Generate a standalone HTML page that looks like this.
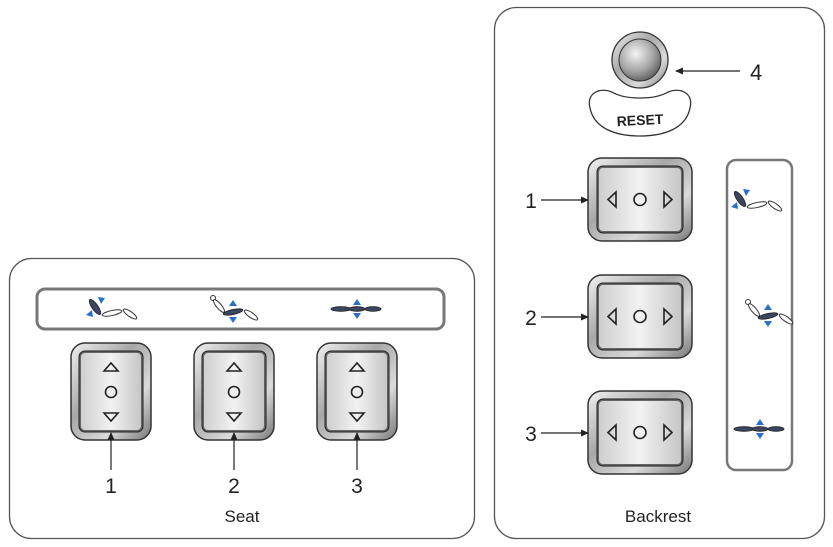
<!DOCTYPE html>
<html><head><meta charset="utf-8"><style>
html,body{margin:0;padding:0;background:#fff;}
svg{display:block;font-family:"Liberation Sans",Arial,sans-serif;}
</style></head><body>
<svg width="833" height="547" viewBox="0 0 833 547" xmlns="http://www.w3.org/2000/svg">
<defs>
<linearGradient id="bez" x1="0" y1="0" x2="1" y2="1">
<stop offset="0" stop-color="#f0f0f0"/><stop offset="0.4" stop-color="#a8a8a8"/><stop offset="0.7" stop-color="#dadada"/><stop offset="1" stop-color="#777"/>
</linearGradient>
<linearGradient id="face" x1="0" y1="0" x2="1" y2="0">
<stop offset="0" stop-color="#cfcfcf"/><stop offset="0.5" stop-color="#f2f2f2"/><stop offset="1" stop-color="#c6c6c6"/>
</linearGradient>
<radialGradient id="ball" cx="0.4" cy="0.35" r="0.7">
<stop offset="0" stop-color="#f4f4f4"/><stop offset="0.6" stop-color="#a4a4a4"/><stop offset="1" stop-color="#5a5a5a"/>
</radialGradient>
<marker id="ah" markerWidth="8" markerHeight="8" refX="7" refY="4" orient="auto" markerUnits="userSpaceOnUse">
<path d="M0,0.5 L8,4 L0,7.5 z" fill="#222"/>
</marker>
<g id="vbtn">
<rect x="0" y="0" width="80" height="97" rx="14" fill="url(#bez)" stroke="#333" stroke-width="1.5"/>
<rect x="8" y="8" width="64" height="81" rx="6" fill="#666" stroke="#222" stroke-width="1"/>
<rect x="10" y="10" width="60" height="77" rx="4" fill="url(#face)"/>
<path d="M33,28 L40,20 L47,28 z" fill="none" stroke="#222" stroke-width="1.6"/>
<circle cx="40" cy="49" r="5.5" fill="none" stroke="#222" stroke-width="1.6"/>
<path d="M33,70 L40,78 L47,70 z" fill="none" stroke="#222" stroke-width="1.6"/>
</g>
<g id="hbtn">
<rect x="0" y="0" width="104" height="83" rx="14" fill="url(#bez)" stroke="#333" stroke-width="1.5"/>
<rect x="9" y="8" width="86" height="67" rx="6" fill="#666" stroke="#222" stroke-width="1"/>
<rect x="11" y="10" width="82" height="63" rx="4" fill="url(#face)"/>
<path d="M28,34 L20,41.5 L28,49 z" fill="none" stroke="#222" stroke-width="1.6"/>
<circle cx="52" cy="41.5" r="6" fill="none" stroke="#222" stroke-width="1.6"/>
<path d="M76,34 L84,41.5 L76,49 z" fill="none" stroke="#222" stroke-width="1.6"/>
</g>
<g id="ic1">
<ellipse cx="0" cy="0" rx="9" ry="3" transform="rotate(55)" fill="#3c4660" stroke="#222" stroke-width="0.8"/>
<ellipse cx="17" cy="6" rx="10" ry="2.5" transform="rotate(-12 17 6)" fill="#fff" stroke="#333" stroke-width="1"/>
<ellipse cx="35" cy="7" rx="8" ry="2.5" transform="rotate(35 35 7)" fill="#fff" stroke="#333" stroke-width="1"/>
<path d="M-9,8 L-3,3 L-2,10 z M3,-10 L10,-9 L6,-3 z" fill="#2a6fc8"/>
</g>
<g id="ic2">
<circle cx="-12" cy="-12" r="2.5" fill="#fff" stroke="#333"/>
<ellipse cx="-6" cy="-4" rx="8" ry="2.5" transform="rotate(50 -6 -4)" fill="#fff" stroke="#333" stroke-width="1"/>
<ellipse cx="8" cy="2" rx="10" ry="2.5" transform="rotate(-12 8 2)" fill="#3c4660" stroke="#222" stroke-width="0.8"/>
<ellipse cx="26" cy="5" rx="8" ry="2.5" transform="rotate(35 26 5)" fill="#fff" stroke="#333" stroke-width="1"/>
<path d="M4,-4 L8,-10 L12,-4 z M4,7 L12,7 L8,13 z" fill="#2a6fc8"/>
</g>
<g id="ic3">
<ellipse cx="-16" cy="0" rx="10" ry="2.3" fill="#3c4660" stroke="#222" stroke-width="0.8"/>
<ellipse cx="0" cy="0" rx="8" ry="2.3" fill="#3c4660" stroke="#222" stroke-width="0.8"/>
<ellipse cx="16" cy="0" rx="8" ry="2.3" fill="#3c4660" stroke="#222" stroke-width="0.8"/>
<path d="M-4,-4 L0,-10 L4,-4 z M-4,4 L4,4 L0,10 z" fill="#2a6fc8"/>
</g>
</defs>

<!-- Seat panel -->
<rect x="9.5" y="258.5" width="465" height="280" rx="22" fill="#fff" stroke="#555" stroke-width="1.3"/>
<rect x="37" y="289" width="407" height="40" rx="8" fill="#fff" stroke="#777" stroke-width="3"/>
<use href="#ic1" x="95" y="307"/>
<use href="#ic2" x="225" y="310"/>
<use href="#ic3" x="357" y="309"/>
<use href="#vbtn" x="71" y="343"/>
<use href="#vbtn" x="194" y="343"/>
<use href="#vbtn" x="317" y="343"/>
<line x1="111" y1="470" x2="111" y2="433" stroke="#222" stroke-width="1.2" marker-end="url(#ah)"/>
<line x1="234" y1="470" x2="234" y2="433" stroke="#222" stroke-width="1.2" marker-end="url(#ah)"/>
<line x1="357" y1="470" x2="357" y2="433" stroke="#222" stroke-width="1.2" marker-end="url(#ah)"/>
<text x="111" y="493" font-size="21" text-anchor="middle" fill="#222">1</text>
<text x="234" y="493" font-size="21" text-anchor="middle" fill="#222">2</text>
<text x="357" y="493" font-size="21" text-anchor="middle" fill="#222">3</text>
<text x="242" y="522" font-size="17" text-anchor="middle" fill="#222">Seat</text>

<!-- Backrest panel -->
<rect x="494.5" y="7.5" width="330" height="531" rx="22" fill="#fff" stroke="#555" stroke-width="1.3"/>
<path d="M590,108 C586,93 600,87 612,92 C625,100 655,100 668,92 C680,87 694,93 690,108 C686,128 665,136 640,136 C615,136 594,128 590,108 z" fill="#fff" stroke="#333" stroke-width="1.3"/>
<text x="640" y="125" font-size="14" font-weight="bold" text-anchor="middle" fill="#222" transform="rotate(-3 640 120)">RESET</text>
<circle cx="640" cy="60" r="28" fill="url(#bez)" stroke="#333" stroke-width="1.3"/>
<circle cx="640" cy="60" r="21" fill="url(#ball)" stroke="#333" stroke-width="1"/>
<line x1="740" y1="71" x2="676" y2="71" stroke="#222" stroke-width="1.2" marker-end="url(#ah)"/>
<text x="750" y="80" font-size="22" fill="#222">4</text>

<use href="#hbtn" x="588" y="158"/>
<use href="#hbtn" x="588" y="275"/>
<use href="#hbtn" x="588" y="391"/>
<line x1="541" y1="200" x2="588" y2="200" stroke="#222" stroke-width="1.2" marker-end="url(#ah)"/>
<line x1="541" y1="317" x2="588" y2="317" stroke="#222" stroke-width="1.2" marker-end="url(#ah)"/>
<line x1="541" y1="433" x2="588" y2="433" stroke="#222" stroke-width="1.2" marker-end="url(#ah)"/>
<text x="531" y="208" font-size="21" text-anchor="middle" fill="#222">1</text>
<text x="531" y="325" font-size="21" text-anchor="middle" fill="#222">2</text>
<text x="531" y="441" font-size="21" text-anchor="middle" fill="#222">3</text>

<rect x="727" y="160" width="65" height="310" rx="9" fill="#fff" stroke="#777" stroke-width="2.5"/>
<use href="#ic1" x="740" y="199"/>
<use href="#ic2" x="760" y="314"/>
<use href="#ic3" x="760" y="429"/>
<text x="658" y="522" font-size="17" text-anchor="middle" fill="#222">Backrest</text>
</svg>
</body></html>
